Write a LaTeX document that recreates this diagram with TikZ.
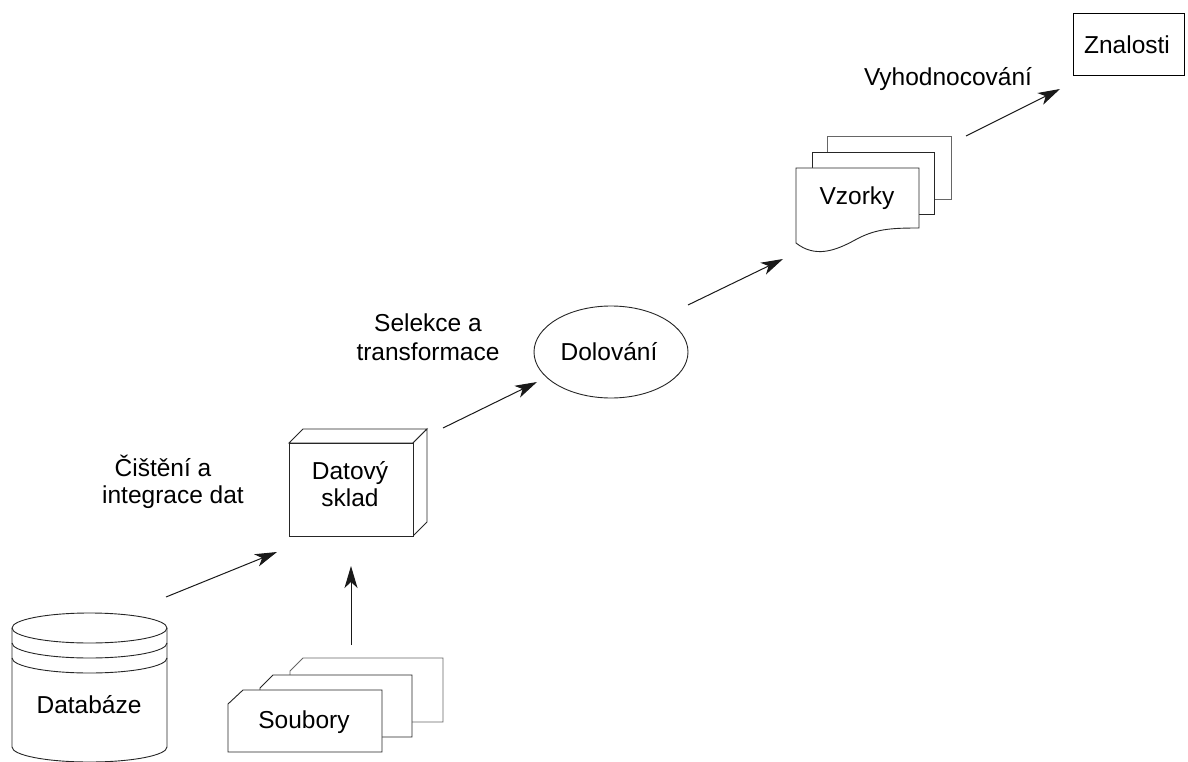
\documentclass[tikz,border=0pt]{standalone}
\usepackage{fontspec}
\setmainfont{Liberation Sans}
\usetikzlibrary{arrows.meta,shapes.geometric}
\begin{document}
\begin{tikzpicture}[x=1pt,y=-1pt,
  shapeline/.style={draw=black!85,line width=0.9pt,fill=white},
  backline/.style={draw=black!60,line width=0.9pt,fill=white},
  lbl/.style={font=\fontsize{24.5}{30}\selectfont,inner sep=0pt,align=center},
  flow/.style={draw=black!90,line width=1pt,-{Stealth[length=22pt,width=13pt,inset=6pt]}}]
\useasboundingbox (0,0) rectangle (1188,762);
\fill[white] (0,0) rectangle (1188,762);

% Database cylinder
\draw[shapeline] (12,628) -- (12,747) arc[start angle=180,end angle=360,x radius=77.5pt,y radius=15pt]
  -- (167,628) arc[start angle=0,end angle=180,x radius=77.5pt,y radius=15pt] -- cycle;
\draw[shapeline,fill=none] (12,628) arc[start angle=180,end angle=360,x radius=77.5pt,y radius=15pt];
\draw[shapeline,fill=none] (12,643) arc[start angle=180,end angle=360,x radius=77.5pt,y radius=15pt];
\draw[shapeline,fill=none] (12,658) arc[start angle=180,end angle=360,x radius=77.5pt,y radius=15pt];
\node[lbl] (db) at (89,705) {Databáze};

% Files stack
\draw[backline] (290,722) -- (290,671) -- (303,658) -- (443,658) -- (443,722) -- cycle;
\draw[shapeline] (260,737) -- (260,688) -- (273,675) -- (412,675) -- (412,737) -- cycle;
\draw[shapeline] (228,752) -- (228,704) -- (243,690) -- (382,690) -- (382,752) -- cycle;
\node[lbl] (files) at (304,722) {Soubory};

% Cube (data warehouse)
\draw[shapeline] (289,443) -- (303,429) -- (427,429) -- (413,443) -- cycle;
\draw[shapeline] (413,443) -- (427,429) -- (427,522) -- (413,536) -- cycle;
\node[shapeline,minimum width=124pt,minimum height=93pt,inner sep=0pt] (dw) at (351,489.5) {};
\node[lbl] (dwt) at (350,484) {Datový\\[-3pt]sklad};

% Mining ellipse
\node[shapeline,ellipse,minimum width=154pt,minimum height=92pt,inner sep=0pt] (mine) at (611,352) {};
\node[lbl] (minet) at (609,352) {Dolování};

% Patterns stack
\draw[backline] (827,199) -- (827,136) -- (951,136) -- (951,199) -- cycle;
\draw[shapeline] (812,214) -- (812,152) -- (934,152) -- (934,214) -- cycle;
\draw[shapeline] (796,243) -- (796,168) -- (919,168) -- (919,228)
  .. controls (890,228) and (875,229) .. (855,240)
  .. controls (835,251) and (815,258) .. (796,243) -- cycle;
\node[lbl] (pat) at (857,198) {Vzorky};

% Knowledge
\node[draw=black,line width=0.9pt,minimum width=111pt,minimum height=62pt,inner sep=0pt] (know) at (1128.5,44) {};
\node[lbl] (knowt) at (1127,45) {Znalosti};

% Labels
\node[lbl] (l1a) at (163,466) {Čištění a};
\node[lbl] (l1b) at (173,497) {integrace dat};
\node[lbl] (l2) at (428,337) {Selekce a\\[-1pt]transformace};
\node[lbl] (l3) at (948,79) {Vyhodnocování};

% Arrow coordinates
\coordinate (a1s) at (166,597); \coordinate (a1e) at (277,552);
\coordinate (a2s) at (351,645); \coordinate (a2e) at (351,566);
\coordinate (a3s) at (443,428); \coordinate (a3e) at (537,382);
\coordinate (a4s) at (688,305); \coordinate (a4e) at (783,259);
\coordinate (a5s) at (966,136); \coordinate (a5e) at (1060,89);
\draw[flow] (a1s) -- (a1e);
\draw[flow] (a2s) -- (a2e);
\draw[flow] (a3s) -- (a3e);
\draw[flow] (a4s) -- (a4e);
\draw[flow] (a5s) -- (a5e);
\end{tikzpicture}
\end{document}
